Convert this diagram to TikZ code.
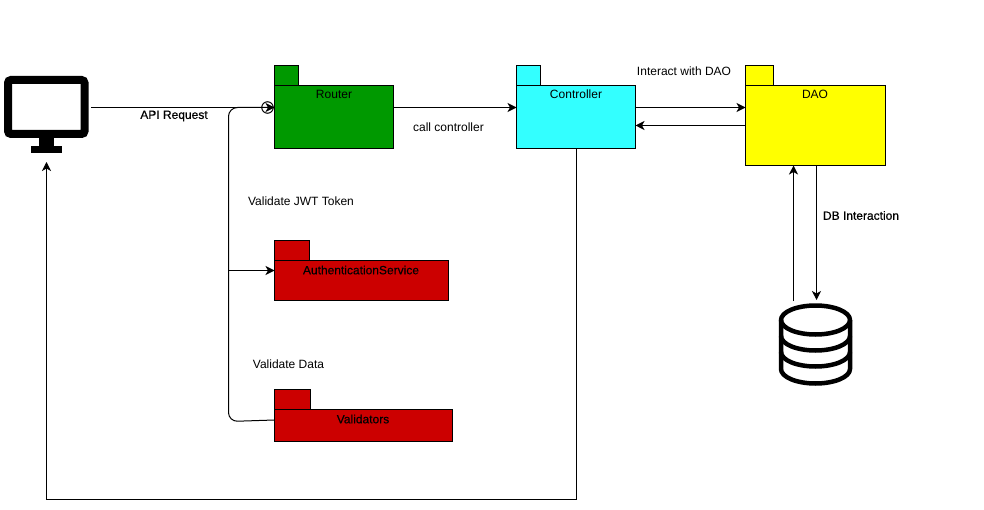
\documentclass[tikz,border=0pt]{standalone}
\usepackage{fontspec}
\setmainfont{Liberation Sans}
\newfontfamily\fakebold[FakeBold=0.7]{Liberation Sans}
\newfontfamily\fakesemi[FakeBold=0.2]{Liberation Sans}
\usetikzlibrary{arrows.meta}
\definecolor{pgreen}{HTML}{009900}
\definecolor{pcyan}{HTML}{33FFFF}
\definecolor{pyellow}{HTML}{FFFF00}
\definecolor{pred}{HTML}{CC0000}
\tikzset{
  pkg/.style={draw=black,line width=1pt,inner sep=0pt,outer sep=0pt,rectangle},
  txt/.style={font=\fontsize{12}{14}\selectfont,text=black,inner sep=0pt},
  redtxt/.style={font=\fakesemi\fontsize{12}{14}\selectfont,text=black,inner sep=0pt},
  btxt/.style={font=\fakebold\fontsize{12}{14}\selectfont,text=black,inner sep=0pt},
  conn/.style={draw=black,line width=1pt,-{Stealth[length=9pt,width=9pt,inset=2.5pt]}},
  plain/.style={draw=black,line width=1pt},
  icon/.style={draw=black,line width=4.5pt,line join=round},
}
\begin{document}
\begin{tikzpicture}[x=1pt,y=-1pt]
\useasboundingbox (0,0) rectangle (984,510);
% packages
\node[pkg,fill=pgreen,minimum width=24pt,minimum height=20pt] (routertab) at (286.5,75.5) {};
\node[pkg,fill=pgreen,minimum width=119pt,minimum height=63pt] (router) at (334,117) {};
\node[pkg,fill=pcyan,minimum width=24pt,minimum height=20pt] (controllertab) at (528.5,75.5) {};
\node[pkg,fill=pcyan,minimum width=119pt,minimum height=63pt] (controller) at (576,117) {};
\node[pkg,fill=pyellow,minimum width=28pt,minimum height=20pt] (daotab) at (759.5,75.5) {};
\node[pkg,fill=pyellow,minimum width=140pt,minimum height=80pt] (dao) at (815.5,125.5) {};
\node[pkg,fill=pred,minimum width=35pt,minimum height=20pt] (authtab) at (292,250.5) {};
\node[pkg,fill=pred,minimum width=174pt,minimum height=40pt] (auth) at (361.5,280.5) {};
\node[pkg,fill=pred,minimum width=36pt,minimum height=20pt] (valtab) at (292.5,399.5) {};
\node[pkg,fill=pred,minimum width=178pt,minimum height=32pt] (val) at (363.5,425.5) {};
% package names
\node[txt] (routerlabel) at (334,94) {Router};
\node[txt] (controllerlabel) at (576,94.5) {Controller};
\node[txt] (daolabel) at (815,94.5) {DAO};
\node[redtxt] (authlabel) at (361,270) {AuthenticationService};
\node[redtxt] (vallabel) at (363,419) {Validators};
% monitor
\node[draw=black,line width=8pt,rounded corners=3pt,inner sep=0pt,outer sep=0pt,minimum width=76.5pt,minimum height=54pt] (monitor) at (46.25,107) {};
\fill[black] (39,137) rectangle (54,147);
\fill[black] (31,146) rectangle (61.5,153.5);
% database
\coordinate (db) at (815.5,344);
\draw[icon] (815.5,320) ellipse [x radius=34.5,y radius=14.5];
\draw[icon] (781,320) -- (781,369) arc[start angle=180,end angle=0,x radius=34.5,y radius=14.5] -- (850,320);
\draw[icon] (781,336) arc[start angle=180,end angle=0,x radius=34.5,y radius=14.5];
\draw[icon] (781,352) arc[start angle=180,end angle=0,x radius=34.5,y radius=14.5];
% named connector ends
\coordinate (apistart) at (91,107.5);
\coordinate (routerin) at (router.west |- apistart);
\coordinate (busbottom) at (228.5,421.5);
\coordinate (bustop) at (228.5,107.5);
\coordinate (valout) at (val.west |- 0,420);
\coordinate (busauth) at (228.5,270.5);
\coordinate (authin) at (auth.west |- busauth);
\coordinate (ctrlbelow) at (controller.south |- 0,499.5);
\coordinate (monbelow) at (46.5,499.5);
\coordinate (monin) at (46.5,162);
\coordinate (ctrlout) at (controller.east |- routerin);
\coordinate (daoin) at (dao.west |- routerin);
\coordinate (daoout) at (dao.west |- 0,125.5);
\coordinate (ctrlin) at (controller.east |- daoout);
\coordinate (dbup) at (793.5,301);
\coordinate (dbdown) at (816.5,300);
\coordinate (daobottomup) at (dao.south -| dbup);
\coordinate (daobottomdown) at (dao.south -| dbdown);
% connectors
\draw[conn] (apistart) -- (routerin);
\draw[plain,rounded corners=9pt] (valout) -- (busbottom) -- (bustop) -- (routerin);
\node[draw=black,line width=1pt,circle,inner sep=0pt,outer sep=0pt,minimum size=11.5pt] (circ) at (267.5,107.5) {};
\draw[conn] (busauth) -- (authin);
\draw[conn] (router.east |- routerin) -- (controller.west |- routerin);
\draw[conn] (ctrlout) -- (daoin);
\draw[conn] (daoout) -- (ctrlin);
\draw[conn] (controller.south) -- (ctrlbelow) -- (monbelow) -- (monin);
\draw[conn] (dbup) -- (daobottomup);
\draw[conn] (daobottomdown) -- (dbdown);
% free labels
\node[btxt] (apilabel) at (174,116) {API Request};
\node[txt] (calllabel) at (448.5,127) {call controller};
\node[txt] (interactlabel) at (684,71) {Interact with DAO};
\node[txt] (jwtlabel) at (301,201.5) {Validate JWT Token};
\node[txt] (datalabel) at (288.5,364) {Validate Data};
\node[btxt] (dblabel) at (861,215.5) {DB Interaction};
\end{tikzpicture}
\end{document}
